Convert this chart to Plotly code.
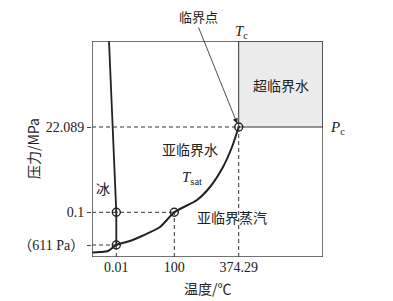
import plotly.graph_objects as go

# Schematic coordinates (diagram units)
x_tick_pos = [24.3, 82.3, 146.7]
x_tick_text = ["0.01", "100", "374.29"]
y_tick_pos = [12, 44.7, 130]
y_tick_text = ["（611 Pa）", "0.1", "22.089"]

# vaporisation curve (T_sat)
sat_x = [0, 8, 16, 24.3, 38, 51, 68, 82.3, 105, 118, 131, 140, 146.7]
sat_y = [4.5, 5, 6, 12, 16, 21.5, 30, 44.7, 57, 70, 90, 110, 130]

# melting line
melt_x = [17, 20.6, 24.3, 24.3]
melt_y = [216, 130, 44.7, 12]

# marked points: triple point, 0.01/0.1, 100/0.1, critical point
pt_x = [24.3, 24.3, 82.3, 146.7]
pt_y = [12, 44.7, 44.7, 130]

X_MAX, Y_MAX = 231, 216
TXT = "#222"
SERIF = "Liberation Serif, Noto Sans CJK SC, serif"
CJK = "Noto Sans CJK SC, sans-serif"

fig = go.Figure()

# supercritical region
fig.add_shape(type="rect", x0=x_tick_pos[2], x1=X_MAX, y0=y_tick_pos[2], y1=Y_MAX,
              fillcolor="#ececec", line=dict(color="#333", width=1), layer="below")

dash = "4px,3px"
dl = dict(color="#333", width=1, dash=dash)
# dashed guide lines
fig.add_shape(type="line", x0=0, x1=x_tick_pos[2], y0=y_tick_pos[2], y1=y_tick_pos[2], line=dl)
fig.add_shape(type="line", x0=x_tick_pos[2], x1=x_tick_pos[2], y0=0, y1=y_tick_pos[2], line=dl)
fig.add_shape(type="line", x0=0, x1=x_tick_pos[1], y0=y_tick_pos[1], y1=y_tick_pos[1], line=dl)
fig.add_shape(type="line", x0=x_tick_pos[1], x1=x_tick_pos[1], y0=0, y1=y_tick_pos[1], line=dl)
fig.add_shape(type="line", x0=0, x1=x_tick_pos[0], y0=y_tick_pos[0], y1=y_tick_pos[0], line=dl)
fig.add_shape(type="line", x0=x_tick_pos[0], x1=x_tick_pos[0], y0=0, y1=y_tick_pos[0], line=dl)

# frame
fig.add_shape(type="rect", x0=0, x1=X_MAX, y0=0, y1=Y_MAX,
              line=dict(color="#444", width=1.5), layer="above")

fig.add_trace(go.Scatter(x=sat_x, y=sat_y, mode="lines", line=dict(color="#222", width=2, shape="spline", smoothing=0.6),
                         hoverinfo="skip"))
fig.add_trace(go.Scatter(x=melt_x, y=melt_y, mode="lines", line=dict(color="#222", width=1.8),
                         hoverinfo="skip"))
fig.add_trace(go.Scatter(x=pt_x, y=pt_y, mode="markers",
                         marker=dict(symbol="circle-open-dot", size=8, color="#222", line=dict(width=1.4, color="#222")),
                         hoverinfo="skip"))

def ann(x, y, text, size=14, font=CJK, **kw):
    fig.add_annotation(x=x / X_MAX, y=y / Y_MAX, xref="paper", yref="paper", text=text, showarrow=False,
                       xanchor="center", yanchor="middle",
                       font=dict(size=size, family=font, color=TXT), **kw)

# critical point arrow
fig.add_annotation(x=145.2, y=133.5, ax=106, ay=231, xref="x", yref="y", axref="x", ayref="y",
                   text="", showarrow=True, arrowhead=2, arrowsize=1.3, arrowwidth=0.8, arrowcolor="#222")
ann(106, 241, "临界点", size=13)
ann(149, 225, "<i>T</i><sub>c</sub>", size=15, font=SERIF)
ann(245, 129, "<i>P</i><sub>c</sub>", size=15, font=SERIF)
ann(189, 172, "超临界水", size=14)
ann(98, 108, "亚临界水", size=14)
ann(100, 79, "<i>T</i><sub>sat</sub>", size=15, font=SERIF)
ann(11, 69, "冰", size=14)
ann(140, 40, "亚临界蒸汽", size=14)
ann(115.5, -31, "温度/℃", size=14)
ann(-59, 108, "压力/MPa", size=14, textangle=-90)

fig.update_layout(
    width=393, height=301,
    margin=dict(l=92, r=70, t=41, b=44),
    paper_bgcolor="white", plot_bgcolor="white",
    showlegend=False,
    xaxis=dict(range=[0, X_MAX], tickvals=x_tick_pos, ticktext=x_tick_text, showgrid=False, zeroline=False,
               showline=False, ticks="", tickfont=dict(size=14, family=SERIF, color=TXT), fixedrange=True),
    yaxis=dict(range=[0, Y_MAX], tickvals=y_tick_pos, ticktext=y_tick_text, showgrid=False, zeroline=False,
               showline=False, ticks="outside", ticklen=4, tickcolor="#444", tickwidth=1,
               tickfont=dict(size=14, family=SERIF, color=TXT), fixedrange=True),
)

fig.write_html("out.html")
